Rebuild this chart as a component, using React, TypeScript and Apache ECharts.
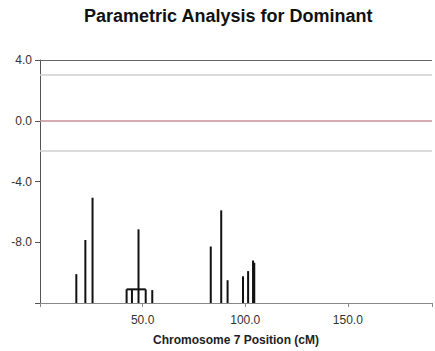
import React, { useEffect, useRef } from "react";
import * as echarts from "echarts";

const FLOOR = -12;
const spikePositions = [17.7, 22.1, 25.6, 42.2, 44.8, 48.0, 51.5, 54.7, 83.2, 88.3, 91.4, 98.9, 101.4, 103.8, 104.4];
const spikePeaks = [-10.1, -7.85, -5.07, -11.1, -11.1, -7.15, -11.1, -11.15, -8.28, -5.9, -10.5, -10.24, -9.9, -9.2, -9.35];
const plateauX = [42.2, 51.5];
const plateauY = [-11.1, -11.1];
const thresholdLines = [3, 0, -2];
const thresholdColors = ["#cfcfcf", "#c98f98", "#cfcfcf"];
const yTicks = [-12, -8, -4, 0, 4];
const xTicks = [0, 50, 100, 150];

export default function App() {
  const ref = useRef<HTMLDivElement>(null);
  useEffect(() => {
    if (!ref.current) return;
    const chart = echarts.init(ref.current, null, { renderer: "svg" });
    const font = "'Liberation Sans', Arial, sans-serif";
    chart.setOption({
      animation: false,
      backgroundColor: "#ffffff",
      title: {
        text: "Parametric Analysis for Dominant",
        left: 79,
        top: 2,
        textStyle: { fontFamily: font, fontSize: 18, fontWeight: "bold", color: "#111" },
      },
      grid: { left: 40, right: 0, top: 60, bottom: 45 },
      xAxis: {
        type: "value",
        min: 0,
        max: 191,
        interval: 50,
        name: "Chromosome 7 Position (cM)",
        nameLocation: "middle",
        nameGap: 31,
        nameTextStyle: { fontFamily: font, fontSize: 12, fontWeight: "bold", color: "#222" },
        axisLine: { show: true, onZero: false, lineStyle: { color: "#888", width: 1 } },
        axisTick: { show: true, length: 4, lineStyle: { color: "#888" } },
        axisLabel: {
          fontFamily: font,
          fontSize: 12,
          color: "#333",
          margin: 11,
          formatter: (v: number) => (xTicks.indexOf(v) > 0 ? v.toFixed(1) : ""),
        },
        splitLine: { show: false },
      },
      yAxis: {
        type: "value",
        min: FLOOR,
        max: 4,
        interval: 4,
        axisLine: { show: true, onZero: false, lineStyle: { color: "#555", width: 1 } },
        axisTick: { show: true, length: 5, lineStyle: { color: "#555" } },
        axisLabel: {
          fontFamily: font,
          fontSize: 12,
          color: "#333",
          margin: 8,
          formatter: (v: number) => (v === yTicks[0] ? "" : v.toFixed(1)),
        },
        splitLine: { show: false },
      },
      series: [
        {
          type: "custom",
          silent: true,
          data: spikePositions.map((x, i) => [x, spikePeaks[i]]),
          renderItem: (params: any, api: any) => {
            const p0 = api.coord([api.value(0), FLOOR]);
            const p1 = api.coord([api.value(0), api.value(1)]);
            return {
              type: "line",
              shape: { x1: p0[0], y1: p0[1], x2: p1[0], y2: p1[1] },
              style: { stroke: "#111", lineWidth: 2 },
            };
          },
          markLine: {
            silent: true,
            symbol: "none",
            label: { show: false },
            data: [
              { yAxis: 4, lineStyle: { color: "#666", width: 1, type: "solid" } },
              ...thresholdLines.map((y, i) => ({
                yAxis: y,
                lineStyle: { color: thresholdColors[i], width: 1.5, type: "solid" },
              })),
            ],
          },
        },
        {
          type: "line",
          silent: true,
          symbol: "none",
          data: plateauX.map((x, i) => [x, plateauY[i]]),
          lineStyle: { color: "#111", width: 2 },
        },
      ],
    });
    return () => chart.dispose();
  }, []);
  return (
    <div
      ref={ref}
      style={{ position: "fixed", left: 0, top: 0, width: 435, height: 351, background: "#fff" }}
    />
  );
}
